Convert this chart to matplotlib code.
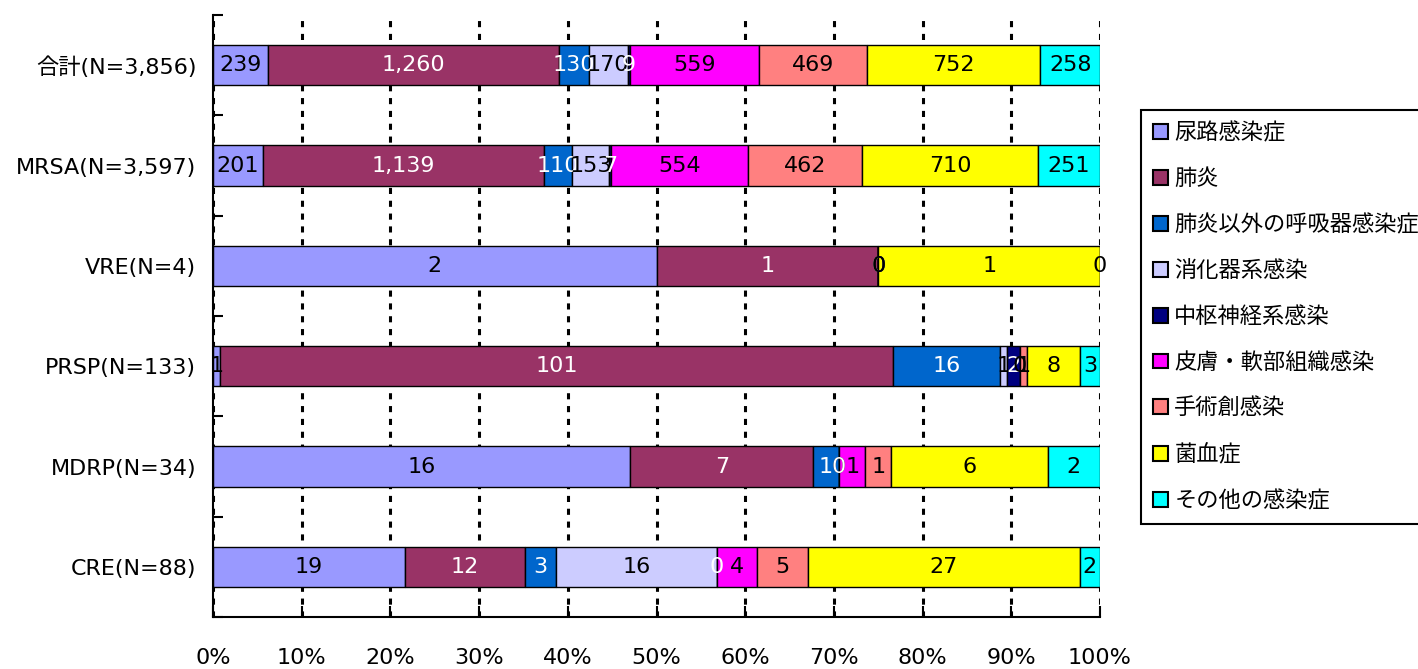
import numpy as np
import matplotlib
matplotlib.use('Agg')
import matplotlib.pyplot as plt
from matplotlib.ticker import FixedLocator, PercentFormatter

plt.rcParams['font.family'] = ['DejaVu Sans', 'Noto Sans CJK JP']

groups = ['合計(N=3,856)', 'MRSA(N=3,597)', 'VRE(N=4)', 'PRSP(N=133)',
          'MDRP(N=34)', 'CRE(N=88)']
infections = ['尿路感染症', '肺炎', '肺炎以外の呼吸器感染症', '消化器系感染',
              '中枢神経系感染', '皮膚・軟部組織感染', '手術創感染', '菌血症',
              'その他の感染症']

# counts per group, one list per infection type
uti = [239, 201, 2, 1, 16, 19]
pneumonia = [1260, 1139, 1, 101, 7, 12]
other_resp = [130, 110, 0, 16, 1, 3]
digestive = [170, 153, 0, 1, 0, 16]
cns = [9, 7, 0, 2, 0, 0]
skin = [559, 554, 0, 0, 1, 4]
surgical = [469, 462, 0, 1, 1, 5]
bacteremia = [752, 710, 1, 8, 6, 27]
others = [258, 251, 0, 3, 2, 2]

series = [uti, pneumonia, other_resp, digestive, cns, skin, surgical,
          bacteremia, others]
colors = ['#9999FF', '#993366', '#0066CC', '#CCCCFF', '#000080', '#FF00FF',
          '#FF8080', '#FFFF00', '#00FFFF']
text_colors = ['black', 'white', 'white', 'black', 'white', 'black', 'black',
               'black', 'black']

counts = np.array(series, dtype=float)
share = counts / counts.sum(axis=0) * 100

fig = plt.figure(figsize=(14.18, 6.69), dpi=100)
ax = fig.add_axes([213 / 1418, 1 - 617 / 669, 887 / 1418, 602 / 669])

y = np.arange(len(groups))
left = np.zeros(len(groups))
handles = []
for i, name in enumerate(infections):
    bars = ax.barh(y, share[i], left=left, height=0.4, color=colors[i],
                   edgecolor='black', linewidth=1, label=name, zorder=2)
    handles.append(bars)
    for j in range(len(groups)):
        ax.text(left[j] + share[i, j] / 2, y[j], '{:,}'.format(series[i][j]),
                ha='center', va='center', fontsize=16, color=text_colors[i],
                zorder=3)
    left += share[i]

ax.set_xlim(0, 100)
ax.set_ylim(len(groups) - 0.5, -0.5)
ax.xaxis.set_major_locator(FixedLocator(np.arange(0, 101, 10)))
ax.xaxis.set_major_formatter(PercentFormatter(decimals=0))
ax.set_yticks(y)
ax.set_yticklabels(groups)
ax.yaxis.set_minor_locator(FixedLocator(np.arange(-0.5, len(groups), 1)))
ax.tick_params(axis='y', which='major', length=0, pad=12, labelsize=16)
ax.tick_params(axis='y', which='minor', direction='in', length=7, width=1.5)
ax.tick_params(axis='x', direction='in', length=8, width=1.5, pad=22,
               labelsize=16)

ax.grid(axis='x', color='black', linestyle=(0, (2, 2.2)), linewidth=2.2,
        zorder=0)
ax.set_axisbelow(True)
for side in ['top', 'right']:
    ax.spines[side].set_visible(False)
for side in ['left', 'bottom']:
    ax.spines[side].set_linewidth(1.5)

leg = ax.legend(handles=handles, loc='upper left',
                bbox_to_anchor=(1141 / 1418, 1 - 110 / 669),
                bbox_transform=fig.transFigure, borderaxespad=0,
                fontsize=16, frameon=True, fancybox=False, framealpha=1,
                edgecolor='black', handlelength=0.65, handleheight=0.65,
                handletextpad=0.3, labelspacing=1.12, borderpad=0.55)
leg.get_frame().set_linewidth(1.5)
for h in leg.legend_handles:
    h.set_edgecolor('black')
    h.set_linewidth(1.5)

fig.savefig('out.png', dpi=100)
